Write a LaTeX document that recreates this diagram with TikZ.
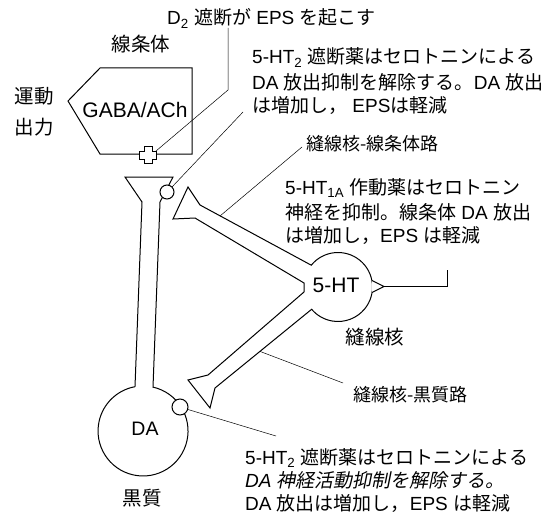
\documentclass[tikz,border=0pt]{standalone}
\usepackage{fontspec}
\setmainfont{Liberation Sans}
\newfontfamily\jp{Noto Sans CJK JP}
\newfontfamily\jpit[FakeSlant=0.2]{Noto Sans CJK JP}
\newcommand{\J}[1]{{\jp #1}}
\newcommand{\JI}[1]{{\jpit #1}}
\begin{document}
\begin{tikzpicture}[x=1pt,y=-1pt,
  outline/.style={line width=1pt, line join=miter},
  leader/.style={line width=0.5pt},
  txt/.style={inner sep=0pt, anchor=base west, font=\fontsize{19}{24}\selectfont},
  smalltxt/.style={inner sep=0pt, anchor=base west, font=\fontsize{18}{22}\selectfont},
  lbl/.style={inner sep=0pt, font=\fontsize{19.5}{24}\selectfont},
  biglbl/.style={inner sep=0pt, font=\fontsize{21}{24}\selectfont}]
\useasboundingbox[fill=white] (0,0) rectangle (553,516);

% ---------- striatum ----------
\draw[outline] (192,68) -- (100,68) -- (68,101) -- (100,154) -- (192,154) -- cycle;
\node[biglbl] (gaba) at (135,110) {GABA/ACh};
\node[lbl] (striatum) at (141,44) {\J{線条体}};
\node[lbl, align=center, font=\fontsize{19.5}{31}\selectfont] (motor) at (34,112) {\J{運動}\\\J{出力}};
\draw[outline, fill=white] (144,146.5) -- (152,146.5) -- (152,151) -- (156.5,151) -- (156.5,159)
  -- (152,159) -- (152,163.5) -- (144,163.5) -- (144,159) -- (139.5,159) -- (139.5,151)
  -- (144,151) -- cycle;
\coordinate (plus) at (156,151);

% ---------- DA neuron ----------
\coordinate (dasoma) at (143,431);
\draw[outline] (135,386.7) -- (142,202) -- (125,177) -- (173,177) -- (160,202) -- (153,387.1)
  arc[start angle=282.8, end angle=619.8, radius=45];
\node[lbl] (da) at (145,429) {DA};
\node[lbl] (sn) at (142,498) {\J{黒質}};
\draw[outline, fill=white] (167,192) circle[radius=7];
\coordinate (termrec) at (172,187);
\draw[outline, fill=white] (180,407) circle[radius=8];
\coordinate (somarec) at (188,409.5);

% ---------- 5-HT neuron ----------
\coordinate (ht) at (338,287);
\draw[outline, fill=white] (200,205) -- ([shift={(219.2:34.5)}]ht)
  arc[start angle=219.2, end angle=499.8, radius=34.5]
  -- (215,388) -- (210,408) -- (188,380) -- (208,375) -- (304,292) -- (304,283)
  -- (195,218) -- (173,219) -- (188,187) -- cycle;
\node[biglbl] (htlbl) at (336,285) {5-HT};
\node[lbl] (raphe) at (375,337) {\J{縫線核}};
\draw[outline, fill=white] (372,280.5) -- (384,286.5) -- (372,292.5);
\coordinate (httip) at (384,286.5);

% ---------- texts ----------
\node[txt] (d2) at (167,25) {D\textsubscript{2} \J{遮断が} EPS \J{を起こす}};
\node[txt] (a1) at (252,64) {5-HT\textsubscript{2} \J{遮断薬はセロトニンによる}};
\node[txt] (a2) at (252,89) {DA \J{放出抑制を解除する。}DA \J{放出}};
\node[txt] (a3) at (252,113) {\J{は増加し，} EPS\J{は軽減}};
\node[smalltxt] (rs) at (306,150) {\J{縫線核-線条体路}};
\node[txt] (b1) at (285,194) {5-HT\textsubscript{1A} \J{作動薬はセロトニン}};
\node[txt] (b2) at (285,219) {\J{神経を抑制。線条体} DA \J{放出}};
\node[txt] (b3) at (285,242) {\J{は増加し，}EPS \J{は軽減}};
\node[smalltxt] (rn) at (353,401) {\J{縫線核-黒質路}};
\node[txt] (c1) at (245,464) {5-HT\textsubscript{2} \J{遮断薬はセロトニンによる}};
\node[txt] (c2) at (245,487) {\textit{DA} \JI{神経活動抑制を解除する。}};
\node[txt] (c3) at (245,510) {DA \J{放出は増加し，}EPS \J{は軽減}};

% ---------- leaders ----------
\coordinate (d2end) at (228,28);
\coordinate (aend) at (243,112);
\coordinate (rsend) at (302,147);
\coordinate (rsaxon) at (220,216);
\coordinate (rnend) at (343,383);
\coordinate (rnaxon) at (260,351.4);
\coordinate (cend) at (276,436);
\coordinate (bend) at (447,270);
\draw[leader] (d2end) -- (228,90) -- (plus);
\draw[leader] (aend) -- (termrec);
\draw[leader] (rsend) -- (rsaxon);
\draw[leader] (rnend) -- (rnaxon);
\draw[leader] (somarec) -- (cend);
\draw[leader] (httip) -- (447,286.5) -- (bend);
\end{tikzpicture}
\end{document}
